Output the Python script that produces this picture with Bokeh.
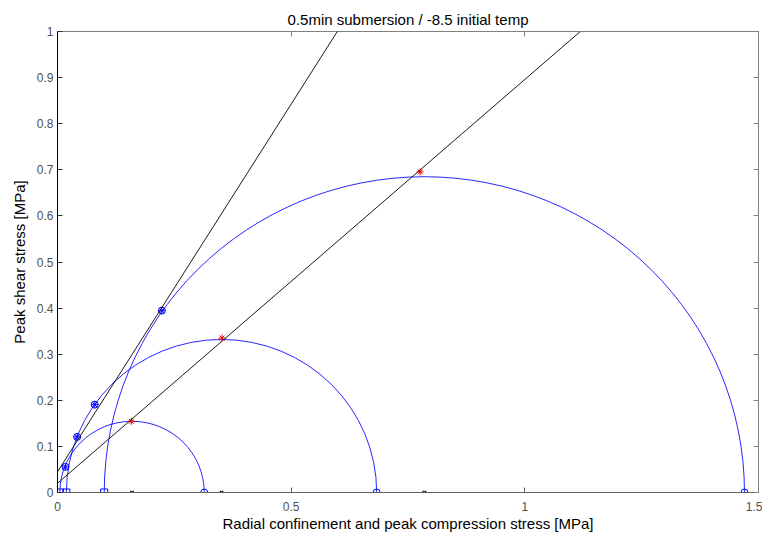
from bokeh.plotting import figure
from bokeh.models import Range1d, LinearAxis, Slope, FixedTicker, CustomLabelingPolicy
from bokeh.embed import file_html
from bokeh.resources import INLINE

# ---- data ----
sigma3 = [0.005, 0.019, 0.100]          # radial confinement (squares)
sigma1 = [0.314, 0.683, 1.470]          # peak compression (circles)
peak_x = [0.158, 0.352, 0.776]          # red stars
peak_y = [0.1545, 0.335, 0.6955]
tangent_x = [0.0171, 0.042, 0.0796, 0.2234]   # blue circled asterisks
tangent_y = [0.0556, 0.1206, 0.1905, 0.3946]
env_intercept = [0.045, 0.020]          # envelope lines
env_slope = [1.595, 0.876]
x_ticks = [0, 0.5, 1, 1.5]
x_tick_labels = ["0", "0.5", "1", "1.5"]
y_ticks = [0, 0.1, 0.2, 0.3, 0.4, 0.5, 0.6, 0.7, 0.8, 0.9, 1]
y_tick_labels = ["0", "0.1", "0.2", "0.3", "0.4", "0.5", "0.6", "0.7", "0.8", "0.9", "1"]

centers = [(a + b) / 2 for a, b in zip(sigma3, sigma1)]
diams = [(b - a) for a, b in zip(sigma3, sigma1)]
zeros3 = [0, 0, 0]

FONT = "Liberation Sans"
BLUE = "#0000ff"

p = figure(width=762, height=534, output_backend="svg", toolbar_location=None,
           x_range=Range1d(0, 1.5), y_range=Range1d(0, 1),
           min_border_left=57, min_border_right=2, min_border_top=31, min_border_bottom=41,
           x_axis_label="Radial confinement and peak compression stress [MPa]",
           y_axis_label="Peak shear stress [MPa]")
p.grid.visible = False
p.background_fill_color = "white"
p.border_fill_color = "white"
p.outline_line_color = "#808080"

p.title.text = "0.5min submersion / -8.5 initial temp"
p.title.align = "center"
p.title.text_font = FONT
p.title.text_font_size = "15px"
p.title.text_font_style = "normal"
p.title.text_color = "black"
p.title.standoff = 0
p.title.offset = 0

for ax, ticks, labels in ((p.xaxis[0], x_ticks, x_tick_labels), (p.yaxis[0], y_ticks, y_tick_labels)):
    ax.ticker = FixedTicker(ticks=ticks)
    ax.major_label_overrides = {t: l for t, l in zip(ticks, labels)}
    ax.minor_tick_line_color = None
    ax.major_tick_in = 5
    ax.major_tick_out = 0
    ax.major_label_text_font = FONT
    ax.major_label_text_font_size = "12px"
    ax.major_label_text_color = "#505050"
    ax.axis_label_text_font = FONT
    ax.axis_label_text_font_size = "15px"
    ax.axis_label_text_font_style = "normal"
    ax.axis_label_text_color = "black"
p.xaxis.axis_line_color = "#606060"
p.yaxis.axis_line_color = "black"
p.xaxis.major_tick_line_color = "#606060"
p.yaxis.major_tick_line_color = "#303030"
p.xaxis.major_label_standoff = 9
p.yaxis.major_label_standoff = 4
p.xaxis.axis_label_standoff = 1
p.yaxis.axis_label_standoff = 6

hide_all = CustomLabelingPolicy(code="""
const all = Array.from(indices)
for (const i of all) indices.unset(i)
return indices
""")
for loc, ticks in (("right", y_ticks), ("above", x_ticks)):
    ax = LinearAxis(ticker=FixedTicker(ticks=ticks))
    ax.major_label_policy = hide_all
    ax.major_label_text_font_size = "1px"
    ax.major_label_standoff = 0
    ax.axis_label_standoff = 0
    ax.minor_tick_line_color = None
    ax.major_tick_in = 5
    ax.major_tick_out = 0
    ax.axis_line_color = "#808080"
    ax.major_tick_line_color = "#808080"
    p.add_layout(ax, loc)

# Mohr circles (upper halves visible)
p.ellipse(x=centers, y=zeros3, width=diams, height=diams,
          fill_color=None, line_color=BLUE, line_width=1, line_alpha=0.85)

# envelopes
for c, s in zip(env_intercept, env_slope):
    p.add_layout(Slope(gradient=s, y_intercept=c, line_color="#1a1a1a", line_width=1))

# markers
p.scatter(sigma3, zeros3, marker="square", size=7, fill_color=None, line_color=BLUE)
p.scatter(sigma1, zeros3, marker="circle", size=7, fill_color=None, line_color=BLUE)
p.scatter(centers, zeros3, marker="x", size=5, line_color="#222222", line_width=1.2)
p.scatter(tangent_x, tangent_y, marker="circle", size=7, fill_color=None, line_color=BLUE)
p.scatter(tangent_x, tangent_y, marker="asterisk", size=7, line_color=BLUE)
p.scatter(peak_x, peak_y, marker="asterisk", size=7, line_color="red")

open("out.html", "w").write(file_html(p, INLINE))
